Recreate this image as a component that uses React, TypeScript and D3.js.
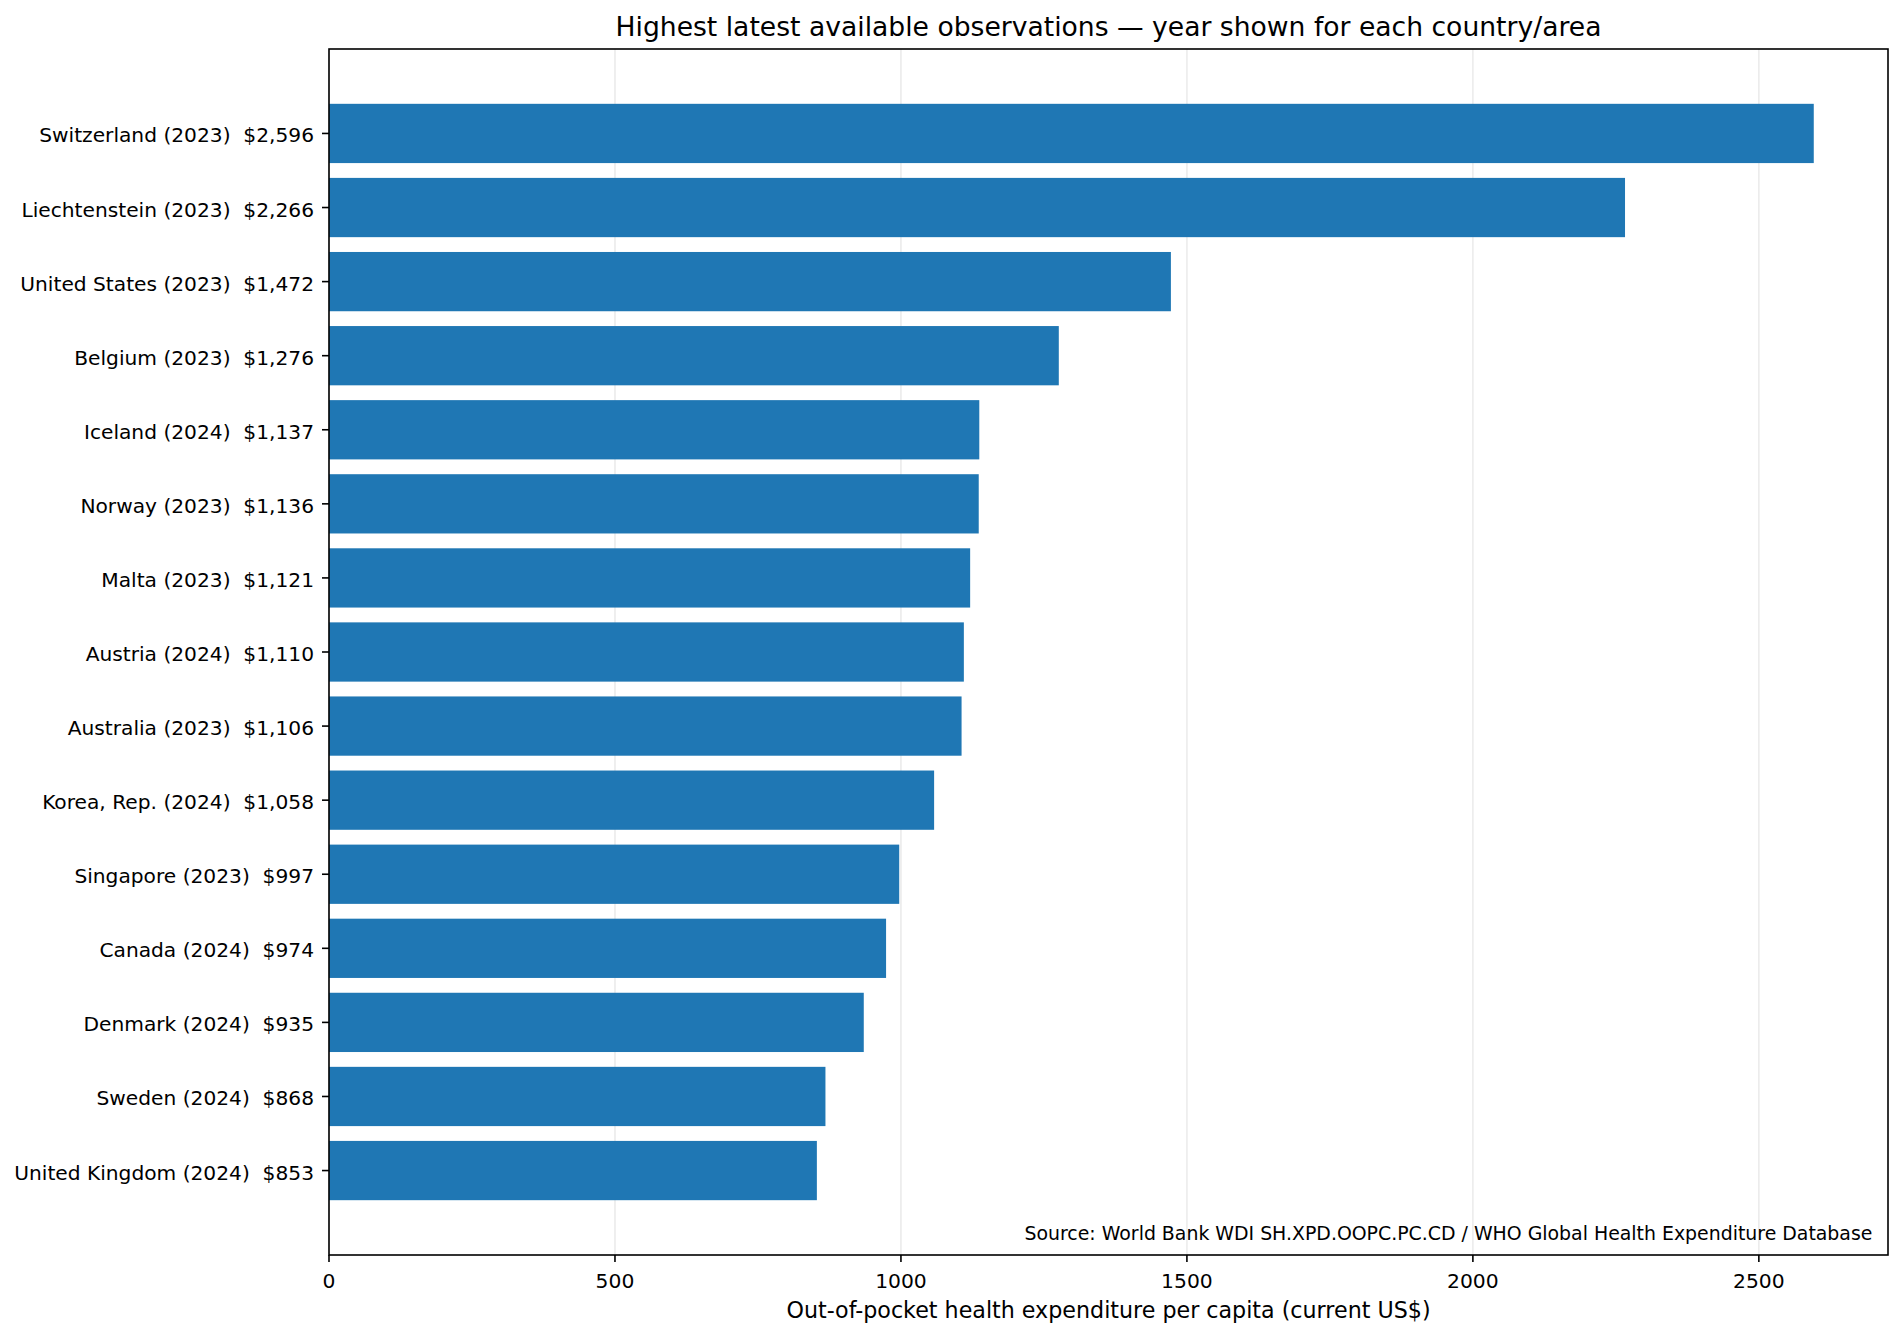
import React from 'react';
import * as d3 from 'd3';

const countries = [
  'Switzerland', 'Liechtenstein', 'United States', 'Belgium', 'Iceland',
  'Norway', 'Malta', 'Austria', 'Australia', 'Korea, Rep.',
  'Singapore', 'Canada', 'Denmark', 'Sweden', 'United Kingdom',
];
const years = [2023, 2023, 2023, 2023, 2024, 2023, 2023, 2024, 2023, 2024, 2023, 2024, 2024, 2024, 2024];
const values = [2596, 2266, 1472, 1276, 1137, 1136, 1121, 1110, 1106, 1058, 997, 974, 935, 868, 853];
const xTicks = [0, 500, 1000, 1500, 2000, 2500];

const W = 1904;
const H = 1336;
const left = 329;
const right = 1888;
const top = 49;
const bottom = 1255;
const font = '"DejaVu Sans", sans-serif';

export default function App() {
  const xMax = d3.max(values)! * 1.05;
  const x = d3.scaleLinear().domain([0, xMax]).range([left, right]);
  const n = values.length;
  const barH = 0.8;
  const lo = -barH / 2;
  const hi = n - 1 + barH / 2;
  const pad = (hi - lo) * 0.05;
  const y = d3.scaleLinear().domain([lo - pad, hi + pad]).range([top, bottom]);
  const fmt = d3.format(',');
  const labels = countries.map((c, i) => `${c} (${years[i]})  $${fmt(values[i])}`);

  return (
    <svg
      width={W}
      height={H}
      style={{ position: 'fixed', left: 0, top: 0, background: '#fff' }}
      fontFamily={font}
    >
      <rect width={W} height={H} fill="#fff" />
      {/* grid */}
      {xTicks.map(t => (
        <line key={'g' + t} x1={x(t)} x2={x(t)} y1={top} y2={bottom} stroke="#b0b0b0" strokeOpacity={0.25} strokeWidth={1.6} />
      ))}
      {/* bars */}
      {values.map((v, i) => (
        <rect
          key={countries[i]}
          x={x(0)}
          y={y(i - barH / 2)}
          width={x(v) - x(0)}
          height={y(i + barH / 2) - y(i - barH / 2)}
          fill="#1f77b4"
        />
      ))}
      {/* frame */}
      <rect x={left} y={top} width={right - left} height={bottom - top} fill="none" stroke="#000" strokeWidth={1.6} />
      {/* x ticks */}
      {xTicks.map(t => (
        <g key={'x' + t}>
          <line x1={x(t)} x2={x(t)} y1={bottom} y2={bottom + 7} stroke="#000" strokeWidth={1.6} />
          <text x={x(t)} y={1288} fontSize={20.3} textAnchor="middle" fill="#000">{t}</text>
        </g>
      ))}
      {/* y ticks */}
      {labels.map((l, i) => (
        <g key={'y' + i}>
          <line x1={left - 7} x2={left} y1={y(i)} y2={y(i)} stroke="#000" strokeWidth={1.6} />
          <text
            x={314}
            y={y(i) + 9}
            fontSize={20.2}
            textAnchor="end"
            fill="#000"
            style={{ whiteSpace: 'pre' }}
          >{l}</text>
        </g>
      ))}
      <text x={(left + right) / 2} y={36} fontSize={26.6} textAnchor="middle" fill="#000">
        Highest latest available observations — year shown for each country/area
      </text>
      <text x={(left + right) / 2} y={1318} fontSize={22.2} textAnchor="middle" fill="#000">
        Out-of-pocket health expenditure per capita (current US$)
      </text>
      <text x={left + (right - left) * 0.99} y={1240} fontSize={18.9} textAnchor="end" fill="#000">
        Source: World Bank WDI SH.XPD.OOPC.PC.CD / WHO Global Health Expenditure Database
      </text>
    </svg>
  );
}
